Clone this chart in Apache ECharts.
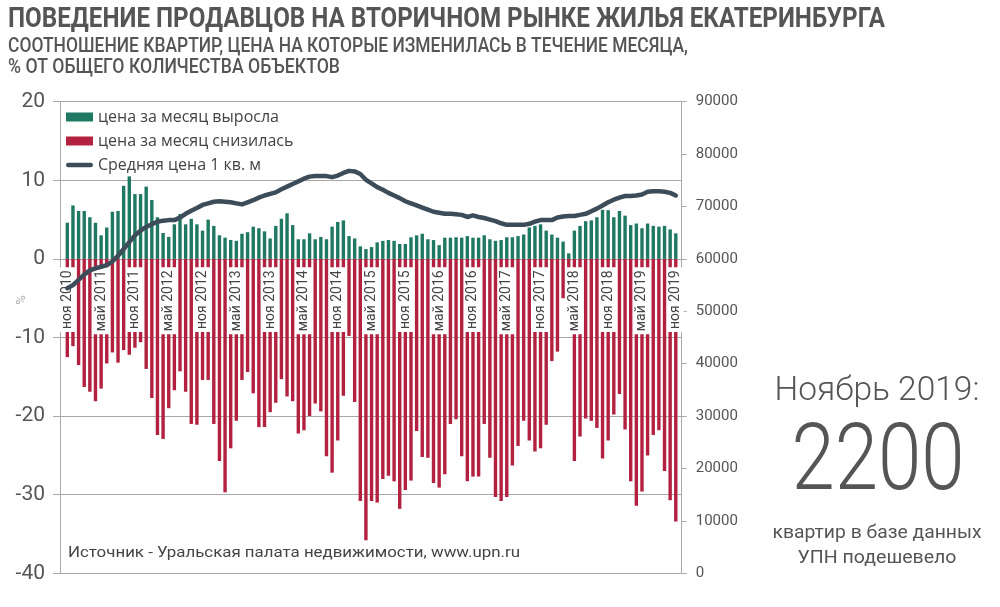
<!DOCTYPE html>
<html><head><meta charset="utf-8">
<script src="https://cdn.jsdelivr.net/npm/echarts@6/dist/echarts.min.js"></script>
<style>html,body{margin:0;padding:0;background:#fff}#c{width:1000px;height:607px}</style>
</head><body><div id="c"></div>
<script>
// ---- data ----
const MONTHS_RU = ['янв','фев','мар','апр','май','июн','июл','авг','сен','окт','ноя','дек'];
const categories = [];
for (let i = 0; i < 109; i++) { const m = (10 + i) % 12; const y = 2010 + Math.floor((10 + i) / 12); categories.push(MONTHS_RU[m] + ' ' + y); }

const priceUp = [4.6,6.8,6.1,6.1,5.3,4.6,3.0,4.0,6.0,6.1,9.3,10.5,8.25,8.25,9.2,7.5,5.3,3.3,2.8,4.4,
5.7,4.4,5.1,4.4,3.6,5.0,4.2,3.0,2.7,2.4,2.3,3.2,3.4,4.1,3.9,3.5,2.6,4.2,5.1,5.8,
4.3,2.5,2.5,3.25,2.5,2.8,2.5,4.1,4.7,4.9,2.9,2.6,1.6,1.25,1.5,2.1,2.3,2.4,2.3,1.9,
1.9,2.75,3.0,3.2,2.5,2.4,1.75,2.7,2.7,2.75,2.7,2.9,2.7,2.7,3.0,2.5,2.3,2.4,2.75,2.75,
2.9,3.1,4.0,4.2,4.4,3.6,3.1,2.7,2.2,0.7,3.6,4.2,4.8,4.9,5.3,6.25,6.2,5.3,6.1,5.5,
4.3,4.5,3.9,4.5,4.2,4.1,4.2,3.75,3.25];

const priceDown = [-12.5,-11.1,-13.5,-16.3,-16.9,-18.1,-16.5,-13.3,-11.9,-13.2,-11.6,-12.2,-11.3,-10.6,-14.0,-17.7,-22.4,-22.9,-19.0,-16.7,
-14.3,-16.9,-21.0,-21.1,-15.4,-15.4,-21.0,-25.7,-29.7,-24.1,-20.6,-15.4,-14.4,-17.1,-21.4,-21.4,-19.5,-18.3,-15.3,-17.5,
-18.1,-22.2,-21.8,-20.0,-18.4,-19.4,-25.1,-27.2,-23.1,-17.4,-9.8,-18.2,-30.8,-35.8,-30.8,-31.0,-28.0,-27.6,-28.3,-31.8,
-29.4,-28.2,-21.9,-25.2,-25.3,-28.5,-29.1,-27.4,-21.0,-20.4,-25.1,-28.3,-27.7,-27.7,-21.0,-25.3,-30.3,-30.8,-30.3,-26.3,
-23.8,-20.6,-23.1,-24.5,-24.1,-21.1,-13.0,-11.8,-5.0,-2.0,-25.7,-22.6,-20.3,-20.6,-21.5,-25.4,-23.1,-19.8,-17.2,-21.7,
-28.3,-31.4,-29.6,-25.0,-22.4,-21.8,-27.0,-30.7,-33.4];

const avgPrice = [54400,55000,56000,57000,57800,58200,58500,58800,59500,60600,61900,63200,64500,65400,66100,66600,67100,67300,67400,67400,
67900,68600,69200,69700,70300,70600,70900,71000,70900,70800,70600,70400,70800,71200,71700,72100,72400,72700,73300,73800,
74300,74800,75300,75700,75800,75800,75800,75600,75900,76400,76800,76700,76200,75100,74400,73700,73200,72600,72100,71600,
71000,70600,70200,69800,69400,69000,68800,68600,68600,68500,68400,68000,68300,68000,67800,67500,67200,66800,66500,66500,
66500,66500,66700,67100,67400,67400,67400,67900,68100,68200,68200,68400,68600,69100,69600,70200,70800,71300,71700,72000,
72000,72100,72300,72800,72900,72900,72800,72600,72100];

const leftTicks = {min: -40, max: 20, step: 10};
const rightTicks = {min: 0, max: 90000, step: 10000};

const TITLE = 'ПОВЕДЕНИЕ ПРОДАВЦОВ НА ВТОРИЧНОМ РЫНКЕ ЖИЛЬЯ ЕКАТЕРИНБУРГА';
const SUB1 = 'СООТНОШЕНИЕ КВАРТИР, ЦЕНА НА КОТОРЫЕ ИЗМЕНИЛАСЬ В ТЕЧЕНИЕ МЕСЯЦА,';
const SUB2 = '% ОТ ОБЩЕГО КОЛИЧЕСТВА ОБЪЕКТОВ';
const SOURCE = 'Источник - Уральская палата недвижимости, www.upn.ru';
const NAMES = ['цена за месяц выросла', 'цена за месяц снизилась', 'Средняя цена 1 кв. м'];

// ---- helpers ----
const ctx = document.createElement('canvas').getContext('2d');
function fit(text, font, w) { ctx.font = font; return w / ctx.measureText(text).width; }
function txt(text, x, y, font, w, fill, align) {
  return { type: 'text', x: x, y: y, scaleX: fit(text, font, w), z: 50,
    style: { text: text, font: font, fill: fill || '#555', textAlign: align || 'left', align: align || 'left',
             textVerticalAlign: 'middle', verticalAlign: 'middle' } };
}

const FF = 'Roboto, "Noto Sans", sans-serif';
const chart = echarts.init(document.getElementById('c'), null, {renderer: 'canvas'});
const T = 101.7, H = 471.6, ZERO_H = 157.6;
const BL = 64.5, BW = 614.1;
chart.setOption({
  animation: false,
  backgroundColor: '#fff',
  textStyle: {fontFamily: FF},
  grid: [
    {left: 60, top: T, width: 621.7, height: H, outerBoundsMode: 'none', containLabel: false},
    {left: BL, top: T, width: BW, height: H, outerBoundsMode: 'none', containLabel: false},
    {left: BL, top: T, width: BW, height: ZERO_H, outerBoundsMode: 'none', containLabel: false}
  ],
  legend: {
    orient: 'vertical', left: 66, top: 109, padding: 0, itemWidth: 27, itemHeight: 9, itemGap: 8,
    textStyle: {fontSize: 16, color: '#444', fontFamily: '"Open Sans", Roboto, sans-serif'},
    data: [{name: NAMES[0], icon: 'rect'}, {name: NAMES[1], icon: 'rect'},
           {name: NAMES[2], icon: 'path://M5 0H55A5 5 0 0 1 55 10H5A5 5 0 0 1 5 0Z'}]
  },
  xAxis: [
    {gridIndex: 0, type: 'value', show: false, min: 0, max: 1},
    {gridIndex: 1, type: 'category', data: categories, show: false},
    {gridIndex: 2, type: 'category', data: categories, z: 10, position: 'bottom',
     axisLine: {show: false, onZero: false}, axisTick: {show: false}, splitLine: {show: false},
     axisLabel: {interval: 5, rotate: 90, margin: 8, fontSize: 14, color: '#444', fontFamily: FF,
                 backgroundColor: '#fff', padding: [1, 3, 1, 3]}}
  ],
  yAxis: [
    {gridIndex: 0, type: 'value', min: leftTicks.min, max: leftTicks.max, interval: leftTicks.step, position: 'left',
     axisLine: {show: true, lineStyle: {color: '#aaa'}}, axisTick: {show: true, length: 7, lineStyle: {color: '#aaa'}},
     axisLabel: {margin: 15, fontSize: 21, color: '#555', fontFamily: FF},
     splitLine: {show: true, lineStyle: {color: '#a8a8a8', width: 1}}},
    {gridIndex: 0, type: 'value', min: rightTicks.min, max: rightTicks.max, interval: rightTicks.step, position: 'right',
     axisLine: {show: true, lineStyle: {color: '#aaa'}}, axisTick: {show: true, length: 5, lineStyle: {color: '#aaa'}},
     axisLabel: {margin: 14, fontSize: 15, color: '#555', fontFamily: FF, formatter: (v) => String(v)}, splitLine: {show: false}},
    {gridIndex: 1, type: 'value', min: leftTicks.min, max: leftTicks.max, show: false, splitLine: {show: false}},
    {gridIndex: 1, type: 'value', min: rightTicks.min, max: rightTicks.max, show: false, position: 'right', splitLine: {show: false}},
    {gridIndex: 2, type: 'value', min: 0, max: 1, show: false, splitLine: {show: false}}
  ],
  series: [
    {type: 'bar', name: NAMES[0], xAxisIndex: 1, yAxisIndex: 2, data: priceUp, barWidth: 3.4, barGap: '-100%',
     itemStyle: {color: '#1e7862'}},
    {type: 'bar', name: NAMES[1], xAxisIndex: 1, yAxisIndex: 2, data: priceDown, barWidth: 3.4, barGap: '-100%',
     itemStyle: {color: '#b22140'}},
    {type: 'line', name: NAMES[2], xAxisIndex: 1, yAxisIndex: 3, data: avgPrice, symbol: 'none', z: 20,
     itemStyle: {color: '#3c4c58'},
     lineStyle: {width: 4.5, color: '#3c4c58', cap: 'round', join: 'round'}}
  ],
  graphic: [
    txt(TITLE, 8, 20, 'bold 28px ' + FF, 877, '#555'),
    txt(SUB1, 8, 47, '500 20px ' + FF, 680, '#555'),
    txt(SUB2, 8, 68, '500 20px ' + FF, 332, '#555'),
    txt(SOURCE, 68, 553, '15px ' + FF, 452, '#444'),
    txt('Ноябрь 2019:', 877, 392, '300 33px ' + FF, 205, '#555', 'center'),
    txt('2200', 878, 466, '300 92px ' + FF, 173, '#555', 'center'),
    txt('квартир в базе данных', 877, 533, '18px ' + FF, 209, '#555', 'center'),
    txt('УПН подешевело', 877, 558, '18px ' + FF, 159, '#555', 'center'),
    {type: 'text', x: 22, y: 300, rotation: Math.PI / 2, z: 50,
     style: {text: '%', font: '13px ' + FF, fill: '#aaa', textAlign: 'center', align: 'center', textVerticalAlign: 'middle', verticalAlign: 'middle'}}
  ]
});
</script></body></html>
